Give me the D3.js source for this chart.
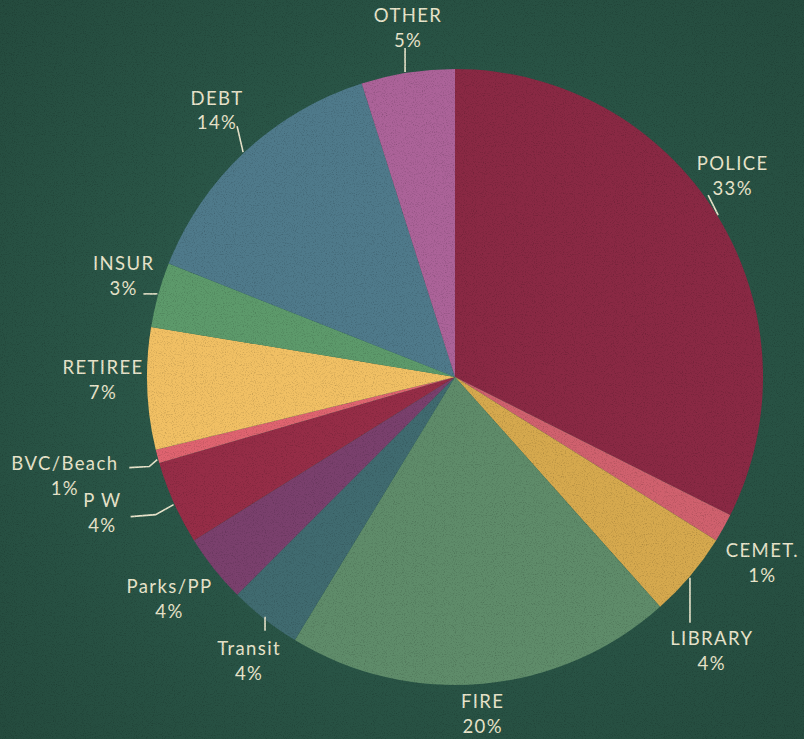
<!DOCTYPE html>
<html>
<head>
<meta charset="utf-8">
<script src="https://cdn.jsdelivr.net/npm/d3@7/dist/d3.min.js"></script>
<style>
  html, body { margin: 0; padding: 0; background: #2b5748; }
  svg { display: block; }
  .lbl { font-family: Lato, "Open Sans", sans-serif; font-size: 18.5px; letter-spacing: 1.4px; fill: #e9e5cc; text-anchor: middle; }
  .leader { stroke: #e9e5cc; stroke-width: 1.6; fill: none; }
</style>
</head>
<body>
<div id="chart"></div>
<script>
// slice order clockwise from 12 o'clock
var names = ["POLICE", "CEMET.", "LIBRARY", "FIRE", "Transit", "Parks/PP", "P W", "BVC/Beach", "RETIREE", "INSUR", "DEBT", "OTHER"];
// slice sizes (percent)
var shares = [32.4, 1.5, 4.5, 20.3, 3.8, 3.6, 4.4, 0.7, 6.4, 3.4, 14.1, 4.9];
// printed labels
var pctLabels = ["33%", "1%", "4%", "20%", "4%", "4%", "4%", "1%", "7%", "3%", "14%", "5%"];
var colors = ["#8a2944", "#d0616e", "#d6a94e", "#5f8c6a", "#406b70", "#7a406d", "#962d47", "#df6470", "#f1c064", "#5d9a6b", "#4f7a8b", "#ac6399"];

var width = 804, height = 739,
    cx = 455, cy = 377, radius = 308;

// label placement: angle nudge (deg) and radius from centre
var labelLayout = {
  "POLICE":    {da: -4.5, r: 344},
  "CEMET.":    {da: 1.5,  r: 358},
  "LIBRARY":   {da: 6.5,  r: 374},
  "FIRE":      {da: 0.5,  r: 336},
  "Transit":   {da: -2,   r: 349},
  "Parks/PP":  {da: 1,    r: 360},
  "P W":       {da: 3.4,  r: 377},
  "BVC/Beach": {da: 1,    r: 402},
  "RETIREE":   {da: 2,    r: 352},
  "INSUR":     {da: 1.8,  r: 347},
  "DEBT":      {da: 1.5,  r: 359},
  "OTHER":     {da: 1.2,  r: 354}
};
// leader lines: rim angle (deg) and points relative to rim point
var leaders = {
  "POLICE":    {a: 58.4,  pts: [[0, 0], [-10, -20]]},
  "LIBRARY":   {a: 130.5, pts: [[0, 0], [0, 45]]},
  "Transit":   {a: 217,   pts: [[-4, -7], [-4, 7]]},
  "P W":       {a: 245.6, pts: [[0, 0], [-18, 10], [-43, 12]]},
  "BVC/Beach": {a: 254.5, pts: [[0, 0], [-8, 7], [-28, 8]]},
  "INSUR":     {a: 285.6, pts: [[0, 0], [-14, 0]]},
  "DEBT":      {a: 316.7, pts: [[0, 0], [-6, -26]]},
  "OTHER":     {a: 350.7, pts: [[0, 0], [0, -24]]}
};

var svg = d3.select("#chart").append("svg")
    .attr("width", width)
    .attr("height", height);

var defs = svg.append("defs");
var bg = defs.append("radialGradient").attr("id", "bgGrad")
    .attr("cx", "50%").attr("cy", "50%").attr("r", "75%");
bg.append("stop").attr("offset", "0%").attr("stop-color", "#2f6050");
bg.append("stop").attr("offset", "100%").attr("stop-color", "#244a3d");

var noise = defs.append("filter").attr("id", "grain")
    .attr("x", 0).attr("y", 0).attr("width", "100%").attr("height", "100%");
noise.append("feTurbulence").attr("type", "fractalNoise")
    .attr("baseFrequency", 0.9).attr("numOctaves", 2).attr("seed", 3).attr("result", "n");
noise.append("feColorMatrix").attr("in", "n").attr("type", "matrix")
    .attr("values", "0 0 0 0 0  0 0 0 0 0  0 0 0 0 0  0 0 0 -1.1 0.55");

svg.append("rect").attr("width", width).attr("height", height).attr("fill", "url(#bgGrad)");

var pie = d3.pie().sort(null).value(function(d) { return d; });
var arc = d3.arc().innerRadius(0).outerRadius(radius);
var arcs = pie(shares);

var g = svg.append("g").attr("transform", "translate(" + cx + "," + cy + ")");

g.selectAll(".slice")
    .data(arcs)
  .enter().append("path")
    .attr("class", "slice")
    .attr("d", arc)
    .attr("fill", function(d, i) { return colors[i]; });

// grain over everything
svg.append("rect").attr("width", width).attr("height", height)
    .attr("filter", "url(#grain)").attr("opacity", 0.4);

function polar(deg, r) {
  var a = deg * Math.PI / 180;
  return [Math.sin(a) * r, -Math.cos(a) * r];
}

// leader lines
var line = d3.line();
names.forEach(function(n) {
  var L = leaders[n];
  if (!L) return;
  var p0 = polar(L.a, radius + 1);
  g.append("path")
    .attr("class", "leader")
    .attr("d", line(L.pts.map(function(p) { return [p0[0] + p[0], p0[1] + p[1]]; })));
});

// labels
var labels = g.selectAll(".lbl")
    .data(arcs)
  .enter().append("text")
    .attr("class", "lbl")
    .attr("transform", function(d, i) {
      var L = labelLayout[names[i]];
      var mid = (d.startAngle + d.endAngle) / 2 * 180 / Math.PI + L.da;
      var p = polar(mid, L.r);
      return "translate(" + p[0] + "," + p[1] + ")";
    });
labels.append("tspan").attr("x", 0).attr("dy", "-0.2em").text(function(d, i) { return names[i]; });
labels.append("tspan").attr("x", 0).attr("dy", "1.35em").text(function(d, i) { return pctLabels[i]; });
</script>
</body>
</html>
